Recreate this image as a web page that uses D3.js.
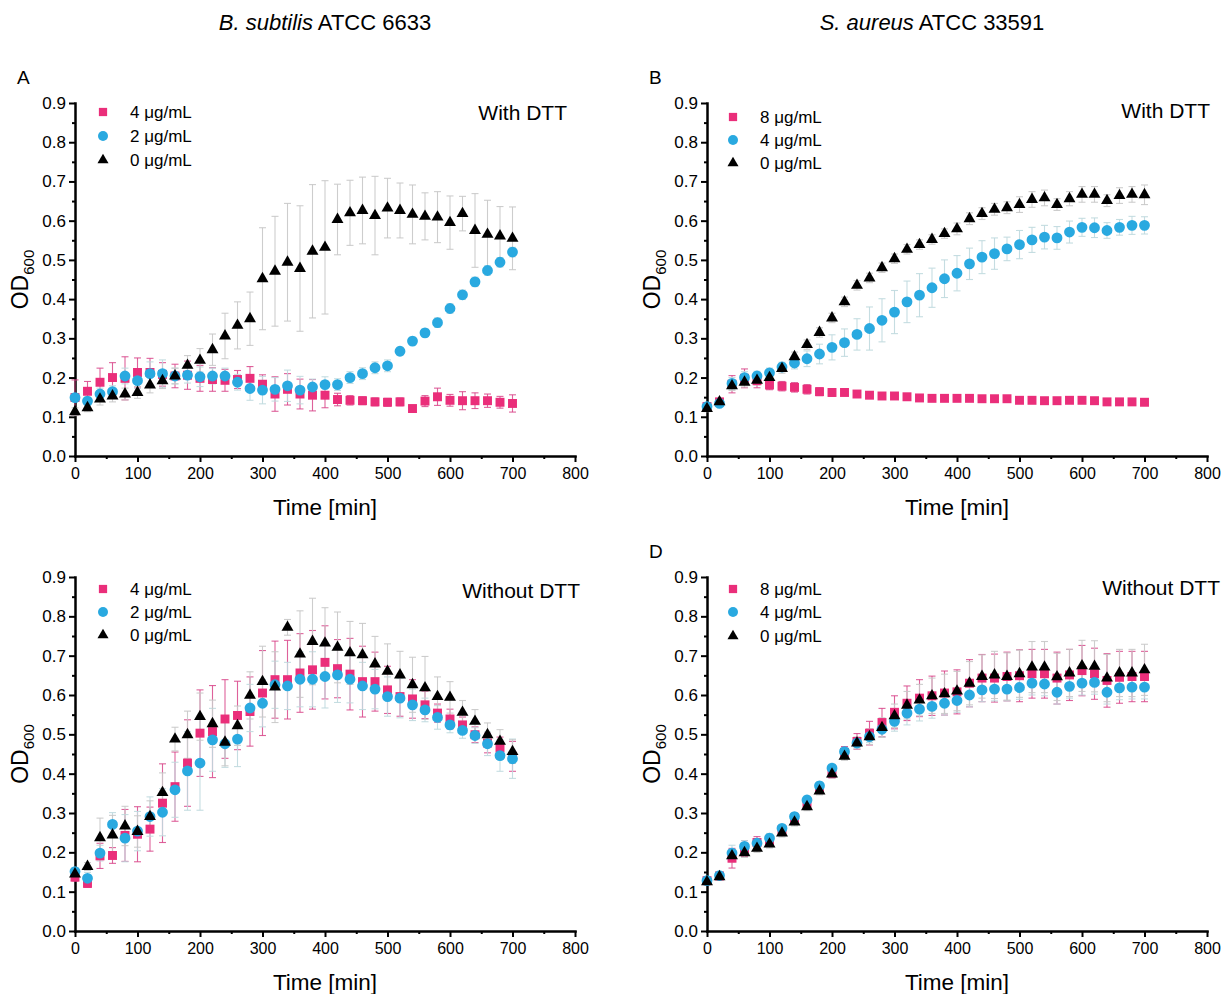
<!doctype html>
<html>
<head>
<meta charset="utf-8">
<script src="https://cdnjs.cloudflare.com/ajax/libs/d3/7.8.5/d3.min.js"></script>
<style>
  body { margin: 0; background: #fff; }
  svg { font-family: "Liberation Sans", Arial, Helvetica, sans-serif; }
  .axis path { stroke: #000; stroke-width: 2.5; stroke-linecap: square; }
  .axis line { stroke: #000; stroke-width: 2; }
  .axis text { font-size: 16px; fill: #000; font-family: "Liberation Sans", Arial, sans-serif; }
  .yaxis text { font-size: 17px; }
</style>
</head>
<body>
<svg id="chart" width="1223" height="994"></svg>
<script>
// sampling times (min)
var time = [0,20,40,60,80,100,120,140,160,180,200,220,240,260,280,300,320,340,360,380,400,
            420,440,460,480,500,520,540,560,580,600,620,640,660,680,700];
var xTicks = [0,100,200,300,400,500,600,700,800];
var xMinor = [50,150,250,350,450,550,650,750];
var yTicks = [0,0.1,0.2,0.3,0.4,0.5,0.6,0.7,0.8,0.9];
var yMinor = [0.05,0.15,0.25,0.35,0.45,0.55,0.65,0.75,0.85];

// A: B. subtilis, with DTT
var aPinkVal = [0.149,0.165,0.188,0.200,0.198,0.213,0.213,0.208,0.204,0.206,0.198,0.195,0.193,0.195,0.198,0.183,0.158,0.170,0.158,0.155,0.155,
                0.144,0.142,0.141,0.138,0.137,0.138,0.121,0.140,0.151,0.142,0.141,0.141,0.141,0.137,0.134];
var aPinkErr = [0.045,0.025,0.036,0.038,0.055,0.037,0.036,0.030,0.030,0.036,0.033,0.030,0.028,0.023,0.030,0.024,0.044,0.040,0.038,0.040,0.032,
                0.016,0.012,0.010,0.010,0.010,0.010,0.008,0.014,0.022,0.015,0.023,0.020,0.017,0.015,0.022];
var aBlueVal = [0.149,0.140,0.158,0.164,0.204,0.192,0.210,0.210,0.204,0.206,0.202,0.204,0.204,0.188,0.172,0.168,0.170,0.179,0.168,0.176,0.182,
                0.182,0.200,0.210,0.225,0.230,0.267,0.293,0.314,0.340,0.376,0.411,0.444,0.473,0.494,0.520];
var aBlueErr = [0.010,0.010,0.015,0.015,0.020,0.020,0.030,0.035,0.020,0.020,0.025,0.020,0.020,0.020,0.030,0.035,0.030,0.040,0.035,0.020,0.020,
                0.015,0.015,0.015,0.015,0.015,0.010,0.010,0.010,0.012,0.012,0.012,0.012,0.012,0.012,0.012];
var aBlackVal = [0.113,0.123,0.145,0.153,0.158,0.162,0.181,0.192,0.204,0.231,0.244,0.271,0.306,0.333,0.350,0.452,0.471,0.494,0.478,0.522,0.532,
                 0.603,0.620,0.626,0.613,0.632,0.626,0.616,0.611,0.609,0.595,0.618,0.575,0.565,0.561,0.555];
var aBlackErr = [0.010,0.010,0.015,0.015,0.015,0.015,0.020,0.020,0.020,0.025,0.030,0.040,0.058,0.060,0.068,0.130,0.140,0.150,0.160,0.170,0.170,
                 0.090,0.083,0.085,0.100,0.076,0.070,0.075,0.060,0.065,0.068,0.044,0.094,0.087,0.075,0.080];

// B: S. aureus, with DTT
var bPinkVal = [0.126,0.138,0.183,0.198,0.192,0.181,0.178,0.175,0.170,0.164,0.162,0.162,0.158,0.155,0.153,0.153,0.151,0.148,0.147,0.147,0.147,
                0.147,0.146,0.146,0.146,0.142,0.142,0.141,0.141,0.142,0.142,0.141,0.138,0.138,0.138,0.137];
var bPinkErr = [0.008,0.008,0.022,0.024,0.018,0.012,0.012,0.012,0.012,0.010,0.010,0.008,0.008,0.008,0.007,0.007,0.007,0.006,0.006,0.006,0.006,
                0.006,0.006,0.006,0.006,0.006,0.006,0.006,0.006,0.006,0.006,0.006,0.006,0.006,0.006,0.006];
var bBlueVal = [0.126,0.134,0.185,0.200,0.204,0.212,0.227,0.237,0.248,0.260,0.277,0.289,0.310,0.325,0.346,0.367,0.393,0.410,0.429,0.452,0.466,
                0.490,0.507,0.516,0.528,0.539,0.551,0.558,0.556,0.571,0.583,0.582,0.575,0.583,0.588,0.588];
var bBlueErr = [0.008,0.008,0.015,0.015,0.012,0.012,0.012,0.015,0.020,0.025,0.032,0.035,0.040,0.055,0.055,0.055,0.053,0.055,0.050,0.048,0.045,
                0.040,0.042,0.040,0.030,0.036,0.032,0.030,0.029,0.028,0.023,0.025,0.020,0.020,0.023,0.022];
var bBlackVal = [0.121,0.138,0.179,0.188,0.193,0.200,0.223,0.253,0.284,0.315,0.352,0.393,0.435,0.454,0.480,0.503,0.527,0.539,0.552,0.567,0.579,
                 0.605,0.618,0.629,0.633,0.641,0.654,0.658,0.641,0.656,0.667,0.667,0.651,0.664,0.667,0.666];
var bBlackErr = [0.008,0.008,0.012,0.012,0.012,0.012,0.012,0.012,0.012,0.012,0.012,0.012,0.012,0.012,0.012,0.012,0.012,0.012,0.012,0.012,0.015,
                 0.015,0.015,0.015,0.015,0.020,0.020,0.020,0.015,0.018,0.020,0.020,0.015,0.020,0.020,0.025];

// C: B. subtilis, without DTT
var cPinkVal = [0.137,0.121,0.191,0.192,0.243,0.246,0.259,0.325,0.367,0.427,0.503,0.507,0.539,0.548,0.558,0.605,0.639,0.639,0.656,0.664,0.683,
                0.667,0.653,0.634,0.634,0.613,0.596,0.590,0.575,0.554,0.539,0.524,0.499,0.478,0.465,0.444];
var cPinkErr = [0.010,0.010,0.032,0.020,0.066,0.070,0.056,0.100,0.088,0.110,0.110,0.117,0.100,0.087,0.088,0.108,0.098,0.100,0.100,0.100,0.093,
                0.074,0.091,0.090,0.075,0.060,0.050,0.049,0.035,0.023,0.025,0.020,0.020,0.025,0.028,0.038];
var cBlueVal = [0.151,0.134,0.198,0.271,0.236,0.254,0.291,0.302,0.359,0.407,0.427,0.486,0.476,0.488,0.567,0.579,0.626,0.623,0.640,0.640,0.647,
                0.651,0.640,0.623,0.615,0.596,0.592,0.575,0.562,0.543,0.524,0.510,0.497,0.476,0.446,0.438];
var cBlueErr = [0.010,0.015,0.020,0.030,0.060,0.050,0.050,0.060,0.070,0.100,0.120,0.080,0.060,0.070,0.060,0.060,0.060,0.060,0.070,0.070,0.080,
                0.070,0.060,0.060,0.050,0.050,0.050,0.040,0.030,0.030,0.020,0.020,0.020,0.030,0.040,0.050];
var cBlackVal = [0.145,0.164,0.237,0.244,0.267,0.253,0.291,0.352,0.488,0.499,0.545,0.527,0.480,0.522,0.599,0.634,0.620,0.772,0.704,0.736,0.732,
                 0.721,0.707,0.702,0.679,0.660,0.651,0.626,0.618,0.596,0.594,0.556,0.533,0.499,0.482,0.456];
var cBlackErr = [0.010,0.010,0.050,0.050,0.050,0.040,0.040,0.050,0.030,0.060,0.060,0.060,0.060,0.050,0.060,0.090,0.090,0.020,0.110,0.110,0.090,
                 0.090,0.080,0.080,0.070,0.070,0.060,0.070,0.080,0.050,0.040,0.030,0.030,0.030,0.030,0.030];

// D: S. aureus, without DTT
var dPinkVal = [0.128,0.140,0.185,0.210,0.225,0.227,0.257,0.287,0.325,0.363,0.401,0.454,0.482,0.503,0.530,0.556,0.579,0.592,0.598,0.605,0.608,
                0.630,0.643,0.643,0.647,0.649,0.654,0.654,0.643,0.651,0.662,0.654,0.637,0.645,0.647,0.647];
var dPinkErr = [0.008,0.008,0.025,0.020,0.015,0.012,0.010,0.010,0.010,0.010,0.012,0.015,0.020,0.030,0.036,0.042,0.044,0.047,0.050,0.056,0.056,
                0.060,0.060,0.061,0.062,0.066,0.062,0.062,0.066,0.065,0.064,0.065,0.068,0.066,0.064,0.064];
var dBlueVal = [0.128,0.141,0.198,0.215,0.223,0.236,0.261,0.291,0.333,0.369,0.414,0.456,0.478,0.494,0.513,0.533,0.554,0.564,0.571,0.579,0.586,
                0.600,0.613,0.615,0.615,0.619,0.630,0.628,0.607,0.622,0.630,0.632,0.607,0.618,0.620,0.620];
var dBlueErr = [0.008,0.008,0.020,0.015,0.012,0.012,0.010,0.010,0.010,0.010,0.010,0.010,0.012,0.015,0.020,0.025,0.030,0.030,0.030,0.030,0.030,
                0.030,0.030,0.030,0.030,0.030,0.030,0.030,0.030,0.030,0.030,0.030,0.030,0.030,0.030,0.030];
var dBlackVal = [0.125,0.138,0.191,0.199,0.210,0.221,0.249,0.277,0.316,0.356,0.399,0.444,0.478,0.494,0.517,0.547,0.574,0.587,0.598,0.603,0.610,
                 0.630,0.647,0.651,0.647,0.654,0.671,0.671,0.646,0.656,0.674,0.673,0.643,0.656,0.656,0.664];
var dBlackErr = [0.008,0.008,0.015,0.012,0.010,0.010,0.010,0.010,0.010,0.010,0.010,0.010,0.015,0.020,0.025,0.030,0.035,0.040,0.045,0.050,0.050,
                 0.055,0.055,0.060,0.060,0.060,0.065,0.065,0.060,0.060,0.065,0.065,0.060,0.060,0.060,0.065];

var legendBs = ["4 μg/mL", "2 μg/mL", "0 μg/mL"];
var legendSa = ["8 μg/mL", "4 μg/mL", "0 μg/mL"];

var pink = "#ea2e7a", blue = "#29a9e0";

var svg = d3.select("#chart");

var panels = [
  {letter: "A", note: "With DTT",    legend: legendBs, x0: 75,  yb: 456, yt: 103, legX: 103, legY: [112,136,160], noteX: 567,  noteY: 112,
   series: [[aPinkVal, aPinkErr], [aBlueVal, aBlueErr], [aBlackVal, aBlackErr]]},
  {letter: "B", note: "With DTT",    legend: legendSa, x0: 707, yb: 456, yt: 103, legX: 733, legY: [117,140,163], noteX: 1210, noteY: 110,
   series: [[bPinkVal, bPinkErr], [bBlueVal, bBlueErr], [bBlackVal, bBlackErr]]},
  {letter: "",  note: "Without DTT", legend: legendBs, x0: 75,  yb: 931, yt: 577, legX: 103, legY: [589,612,635], noteX: 580,  noteY: 590,
   series: [[cPinkVal, cPinkErr], [cBlueVal, cBlueErr], [cBlackVal, cBlackErr]]},
  {letter: "D", note: "Without DTT", legend: legendSa, x0: 707, yb: 931, yt: 577, legX: 733, legY: [589,612,636], noteX: 1220, noteY: 587,
   series: [[dPinkVal, dPinkErr], [dBlueVal, dBlueErr], [dBlackVal, dBlackErr]]}
];

var styles = [
  {fill: pink,   err: "#d8458a", errOp: 0.85, sym: d3.symbolSquare,   size: 80},
  {fill: blue,   err: "#bfd9de", errOp: 0.9,  sym: d3.symbolCircle,   size: 92},
  {fill: "#000", err: "#c8c8c8", errOp: 0.9,  sym: d3.symbolTriangle, size: 62}
];

panels.forEach(function(p) {
  var x = d3.scaleLinear().domain([0, 800]).range([p.x0, p.x0 + 500]);
  var y = d3.scaleLinear().domain([0, 0.9]).range([p.yb, p.yt]);
  var g = svg.append("g");

  // minor ticks
  g.append("g").attr("class", "axis").attr("transform", "translate(0," + p.yb + ")")
    .call(d3.axisBottom(x).tickValues(xMinor).tickSize(3).tickSizeOuter(0).tickFormat(""))
    .select(".domain").remove();
  g.append("g").attr("class", "axis").attr("transform", "translate(" + p.x0 + ",0)")
    .call(d3.axisLeft(y).tickValues(yMinor).tickSize(3).tickSizeOuter(0).tickFormat(""))
    .select(".domain").remove();

  // major axes
  g.append("g").attr("class", "axis").attr("transform", "translate(0," + p.yb + ")")
    .call(d3.axisBottom(x).tickValues(xTicks).tickSize(6).tickSizeOuter(0).tickPadding(6));
  g.append("g").attr("class", "axis yaxis").attr("transform", "translate(" + p.x0 + ",0)")
    .call(d3.axisLeft(y).tickValues(yTicks).tickSize(6).tickSizeOuter(0).tickPadding(3).tickFormat(d3.format(".1f")));

  // axis titles
  g.append("text").attr("x", p.x0 + 250).attr("y", p.yb + 59)
    .attr("text-anchor", "middle").style("font-size", "22.5px").text("Time [min]");
  var yl = g.append("text")
    .attr("transform", "translate(" + (p.x0 - 47) + "," + ((p.yb + p.yt) / 2) + ") rotate(-90)")
    .attr("text-anchor", "middle").style("font-size", "23px");
  yl.append("tspan").text("OD");
  yl.append("tspan").attr("dy", 6).style("font-size", "15px").text("600");

  // error bars
  styles.forEach(function(s, i) {
    var vals = p.series[i][0], errs = p.series[i][1];
    var eg = g.append("g").attr("stroke", s.err).attr("stroke-opacity", s.errOp).attr("stroke-width", 1.1);
    time.forEach(function(t, k) {
      var cx = x(t), lo = y(vals[k] - errs[k]), hi = y(vals[k] + errs[k]);
      eg.append("line").attr("x1", cx).attr("x2", cx).attr("y1", lo).attr("y2", hi);
      eg.append("line").attr("x1", cx - 3.5).attr("x2", cx + 3.5).attr("y1", lo).attr("y2", lo);
      eg.append("line").attr("x1", cx - 3.5).attr("x2", cx + 3.5).attr("y1", hi).attr("y2", hi);
    });
  });

  // markers
  styles.forEach(function(s, i) {
    var vals = p.series[i][0];
    g.append("g").selectAll("path").data(time).enter().append("path")
      .attr("d", d3.symbol().type(s.sym).size(s.size))
      .attr("transform", function(t, k) { return "translate(" + x(t) + "," + y(vals[k]) + ")"; })
      .attr("fill", s.fill);
  });

  // legend
  styles.forEach(function(s, i) {
    g.append("path").attr("d", d3.symbol().type(s.sym).size(s.size * 0.85))
      .attr("transform", "translate(" + p.legX + "," + p.legY[i] + ")").attr("fill", s.fill);
    g.append("text").attr("x", p.legX + 27).attr("y", p.legY[i]).attr("dy", "0.36em")
      .style("font-size", "17px").text(p.legend[i]);
  });

  g.append("text").attr("x", p.noteX).attr("y", p.noteY).attr("dy", "0.36em")
    .attr("text-anchor", "end").style("font-size", "21px").text(p.note);

  if (p.letter) {
    g.append("text").attr("x", p.x0 - 58).attr("y", p.yt - 19)
      .style("font-size", "19px").text(p.letter);
  }
});

// column titles
var t1 = svg.append("text").attr("x", 325).attr("y", 30).attr("text-anchor", "middle").style("font-size", "22px");
t1.append("tspan").style("font-style", "italic").text("B. subtilis");
t1.append("tspan").text(" ATCC 6633");
var t2 = svg.append("text").attr("x", 932).attr("y", 30).attr("text-anchor", "middle").style("font-size", "22px");
t2.append("tspan").style("font-style", "italic").text("S. aureus");
t2.append("tspan").text(" ATCC 33591");
</script>
</body>
</html>
